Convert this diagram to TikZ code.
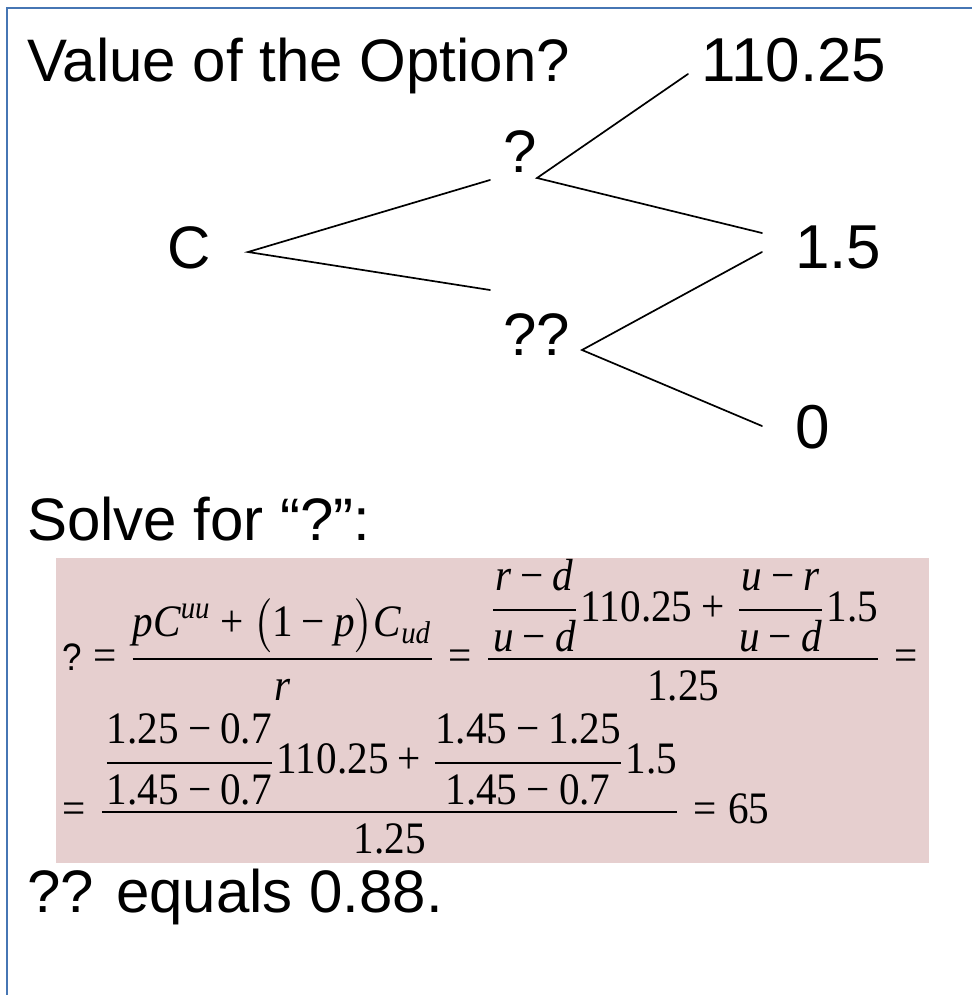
\documentclass[tikz,border=0pt]{standalone}
\usepackage{amsmath}
\usepackage{graphicx}
\usepackage{fontspec}
\setmainfont{Liberation Sans}
\newfontfamily\serif{Liberation Serif}
\newcommand\tn[1]{\text{\serif #1}}
\newcommand\ti[1]{\text{\serif\itshape #1}}
\newcommand\mi{\mathbin{\tn{\char"2212}}}
\newcommand\pl{\mathbin{\tn{+}}}
\newcommand\eq{\mathrel{\tn{=}}}
\definecolor{framecol}{RGB}{70,118,180}
\definecolor{boxpink}{RGB}{230,207,207}
\tikzset{
  big/.style={font=\fontsize{60}{72}\selectfont, inner sep=0pt, anchor=base west},
  bignum/.style={big, font=\fontsize{62}{72}\selectfont},
  branch/.style={line width=1.7pt, line cap=round},
  frame/.style={line width=2.5pt, draw=framecol},
  formula/.style={inner sep=0pt, anchor=base west}
}
\begin{document}
\begin{tikzpicture}[x=1pt,y=-1pt]
\useasboundingbox (0,0) rectangle (971,995);
\fill[white] (0,0) rectangle (971,995);
% frame
\draw[frame] (7,996) -- (7,8) -- (972,8);
% texts
\node[big] (title) at (27,82) {Value of the Option?};
\node[bignum] (uu) at (701,82) {110.25};
\node[big] (up) at (503,172) {?};
\node[big] (root) at (167,268) {C};
\node[bignum] (ud) at (795,268) {1.5};
\node[big] (down) at (503,355) {??};
\node[bignum] (dd) at (795,448) {0};
\node[big] (solve) at (27,540) {Solve for “?”:};
% tree connectors
\coordinate (c0) at (248,252);
\coordinate (c1a) at (490,180);
\coordinate (c1b) at (490,290);
\coordinate (q1) at (537,178);
\coordinate (q1u) at (688,74);
\coordinate (q1d) at (762,233);
\coordinate (q2) at (582,350);
\coordinate (q2u) at (762,252);
\coordinate (q2d) at (762,426);
\draw[branch] (c1a) -- (c0) -- (c1b);
\draw[branch] (q1u) -- (q1) -- (q1d);
\draw[branch] (q2u) -- (q2) -- (q2d);
% formula box
\fill[boxpink] (56,558) rectangle (929,863);
\node[formula] (row1) at (62,670) {\scalebox{4.12}[4.5]{$\displaystyle
 \text{\fontsize{8.5}{10}\selectfont ?}\eq
 \dfrac{\ti{p}\ti{C}^{\ti{uu}}\pl\bigl(\tn{1}\mi\ti{p}\bigr)\ti{C}_{\ti{ud}}}{\ti{r}}\eq
 \dfrac{\dfrac{\ti{r}\mi\ti{d}}{\ti{u}\mi\ti{d}}\tn{110.25}\pl\dfrac{\ti{u}\mi\ti{r}}{\ti{u}\mi\ti{d}}\tn{1.5}}{\tn{1.25}}\eq$}};
\node[formula] (row2) at (62,823) {\scalebox{4.12}[4.5]{$\displaystyle
 \eq\dfrac{\dfrac{\tn{1.25}\mi\tn{0.7}}{\tn{1.45}\mi\tn{0.7}}\tn{110.25}\pl\dfrac{\tn{1.45}\mi\tn{1.25}}{\tn{1.45}\mi\tn{0.7}}\tn{1.5}}{\tn{1.25}}\eq\tn{65}$}};
\node[big] (answer) at (27,912) {?? equals 0.88.};
\end{tikzpicture}
\end{document}
